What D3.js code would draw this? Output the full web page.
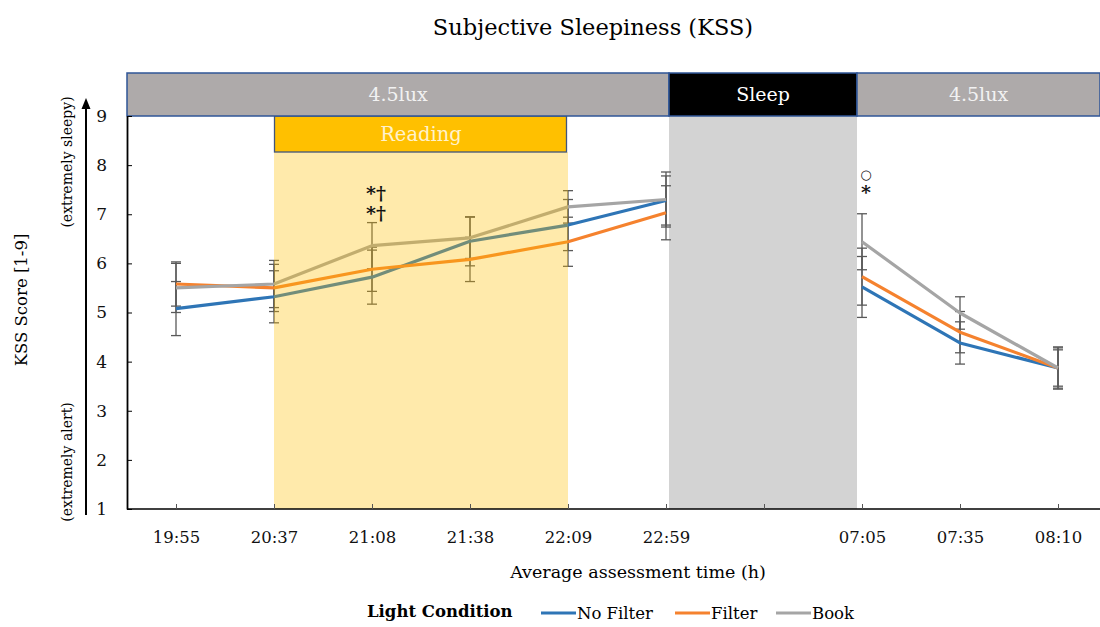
<!DOCTYPE html>
<html><head><meta charset="utf-8">
<script src="https://cdn.jsdelivr.net/npm/d3@7"></script>
<style>body{margin:0;background:#fff}svg{display:block}text{font-family:"DejaVu Serif","Liberation Serif",serif}</style>
</head><body>
<svg id="c" width="1100" height="627"></svg>
<script>
const categories = ["19:55","20:37","21:08","21:38","22:09","22:59"," ","07:05","07:35","08:10"];
const seriesNames = ["No Filter","Filter","Book"];
const seriesColors = ["#2E75B6","#F5822E","#A5A5A5"];
const noFilter = [5.08,5.32,5.72,6.45,6.78,7.28,null,5.52,4.38,3.87];
const filter   = [5.58,5.50,5.88,6.08,6.44,7.03,null,5.73,4.60,3.87];
const book     = [5.50,5.58,6.36,6.52,7.15,7.30,null,6.44,4.99,3.87];
const noFilterErr = [0.55,0.53,0.55,0.50,0.52,0.50,null,0.62,0.43,0.43];
const filterErr   = [0.45,0.48,0.45,0.45,0.50,0.55,null,0.58,0.42,0.37];
const bookErr     = [0.50,0.48,0.47,0.42,0.33,0.56,null,0.57,0.33,0.41];
const yTicks = [1,2,3,4,5,6,7,8,9];
const phases = [{label:"4.5lux",kind:"light1"},{label:"Sleep",kind:"sleep"},{label:"4.5lux",kind:"light2"}];
const readingSpan = ["20:37","22:09"];
const annotations = [{cat:"21:08",lines:["*†","*†"]},{cat:"07:05",lines:["○","*"]}];

(function(){
const svg = d3.select("#c");
const pL = 127, pR = 1107, pT = 116, pB = 509;
const x = d3.scalePoint().domain(categories).range([pL,pR]).padding(0.5);
const y = d3.scaleLinear().domain([1,9]).range([pB,pT]);
const sleepX0 = x("22:59")+3, sleepX1 = x("07:05")-5;

svg.append("text").attr("x",593).attr("y",35).attr("text-anchor","middle").style("font-size","22.5px").text("Subjective Sleepiness (KSS)");

svg.append("rect").attr("x",sleepX0).attr("y",pT).attr("width",sleepX1-sleepX0).attr("height",pB-pT).attr("fill","#D3D3D3");

const series = [noFilter,filter,book].map((v,i)=>({name:seriesNames[i],color:seriesColors[i],vals:v,err:[noFilterErr,filterErr,bookErr][i]}));
const line = d3.line().defined(d=>d.v!=null).x(d=>x(d.c)).y(d=>y(d.v));
const g = svg.append("g");
series.forEach(s=>{
  s.vals.forEach((v,i)=>{
    if(v==null) return;
    const cx = x(categories[i]), e = s.err[i];
    const eg = g.append("g").attr("stroke","#595959").attr("stroke-width",1.3);
    eg.append("line").attr("x1",cx).attr("x2",cx).attr("y1",y(v-e)).attr("y2",y(v+e));
    [v-e,v+e].forEach(t=>eg.append("line").attr("x1",cx-5).attr("x2",cx+5).attr("y1",y(t)).attr("y2",y(t)));
  });
});
series.forEach(s=>{
  g.append("path").datum(s.vals.map((v,i)=>({c:categories[i],v})))
    .attr("fill","none").attr("stroke",s.color).attr("stroke-width",3.2).attr("stroke-linejoin","round").attr("d",line);
});

const rx0 = x(readingSpan[0]), rx1 = x(readingSpan[1]);
svg.append("rect").attr("x",rx0).attr("y",152).attr("width",rx1-rx0).attr("height",pB-152).attr("fill","#FFC000").attr("opacity",0.33);
svg.append("rect").attr("x",rx0+0.5).attr("y",pT).attr("width",rx1-rx0-2).attr("height",36).attr("fill","#FFC000").attr("stroke","#41557A").attr("stroke-width",1.3);
svg.append("text").attr("x",(rx0+rx1)/2).attr("y",141).attr("text-anchor","middle").attr("fill","#FFF2CC").style("font-size","19.5px").text("Reading");

phases.forEach(p=>{
  const x0 = p.kind==="light1"? pL : (p.kind==="sleep"? sleepX0 : sleepX1);
  const x1 = p.kind==="light2"? 1100 : (p.kind==="sleep"? sleepX1 : sleepX0);
  svg.append("rect").attr("x",x0).attr("y",73).attr("width",x1-x0).attr("height",pT-73)
    .attr("fill",p.kind==="sleep"?"#000":"#AEAAAA").attr("stroke","#2F5597").attr("stroke-width",1.5);
  svg.append("text").attr("x",(x0+x1)/2).attr("y",101).attr("text-anchor","middle")
    .attr("fill",p.kind==="sleep"?"#fff":"#F2F2F2").style("font-size","19px").text(p.label);
});

const xa = svg.append("g").attr("transform",`translate(0,${pB})`)
  .call(d3.axisBottom(x).tickSize(-5).tickPadding(22).tickSizeOuter(0));
xa.select(".domain").attr("stroke","#000").attr("stroke-width",1.5).attr("d",`M${pL},0H1100`);
xa.selectAll(".tick line").attr("stroke","#555");
xa.selectAll("text").style("font-size","16.5px").style("font-family","DejaVu Serif, serif").attr("fill","#111");
const ya = svg.append("g").attr("transform",`translate(${pL},0)`)
  .call(d3.axisLeft(y).tickValues(yTicks).tickSize(-5).tickPadding(20).tickSizeOuter(0).tickFormat(d3.format("d")));
ya.select(".domain").attr("stroke","#000").attr("stroke-width",1.8);
ya.selectAll(".tick line").attr("stroke","#000");
ya.selectAll("text").style("font-size","17px").style("font-family","DejaVu Serif, serif").attr("fill","#111");

annotations.forEach(a=>{
  a.lines.forEach((t,k)=>{
    const isCircle = t==="○";
    svg.append("text").attr("x",x(a.cat)+4).attr("y",(a.cat==="21:08"?200:179)+k*20)
      .attr("text-anchor","middle").style("font-size",isCircle?"13px":"19px").style("font-weight",isCircle?"normal":"bold")
      .attr("fill","#111").text(t);
  });
});

svg.append("text").attr("transform","translate(27,300) rotate(-90)").attr("text-anchor","middle").style("font-size","16.5px").text("KSS Score [1-9]");
svg.append("text").attr("transform","translate(72,162) rotate(-90)").attr("text-anchor","middle").style("font-size","14px").text("(extremely sleepy)");
svg.append("text").attr("transform","translate(72,462) rotate(-90)").attr("text-anchor","middle").style("font-size","14px").text("(extremely alert)");
svg.append("line").attr("x1",86).attr("x2",86).attr("y1",515).attr("y2",106).attr("stroke","#000").attr("stroke-width",2);
svg.append("path").attr("d","M86,98 L81.5,109 L90.5,109 Z").attr("fill","#000");

svg.append("text").attr("x",638).attr("y",578).attr("text-anchor","middle").style("font-size","17.5px").text("Average assessment time (h)");

svg.append("text").attr("x",367).attr("y",617).style("font-size","16.5px").style("font-weight","bold").text("Light Condition");
const legX = [541,675,776];
series.forEach((s,i)=>{
  svg.append("line").attr("x1",legX[i]).attr("x2",legX[i]+35).attr("y1",613).attr("y2",613).attr("stroke",s.color).attr("stroke-width",3.2);
  svg.append("text").attr("x",legX[i]+36).attr("y",619).style("font-size","16.5px").text(s.name);
});
})();
</script>
</body></html>
